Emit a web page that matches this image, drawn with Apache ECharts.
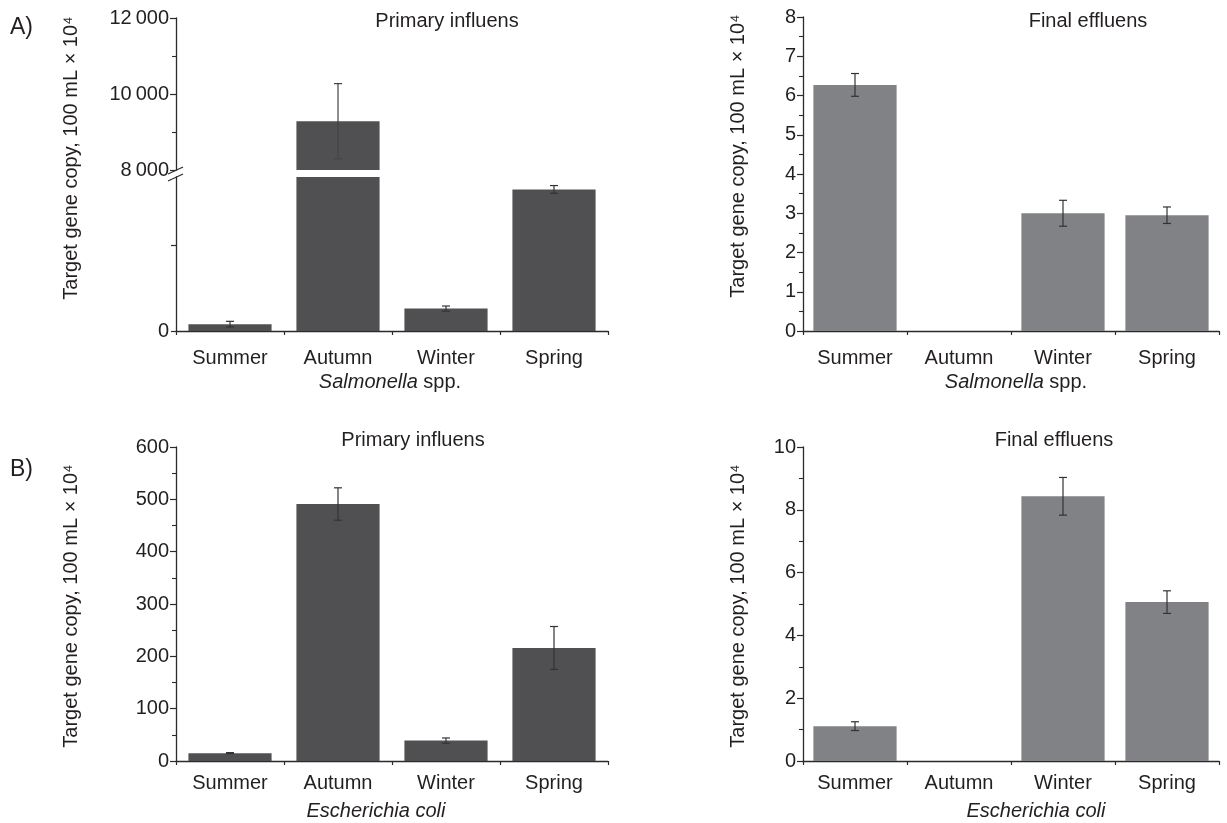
<!DOCTYPE html>
<html>
<head>
<meta charset="utf-8">
<script src="https://cdn.jsdelivr.net/npm/echarts@6/dist/echarts.min.js"></script>
<style>html,body{margin:0;padding:0;background:#fff}#c{width:1227px;height:823px}</style>
</head>
<body>
<div id="c"></div>
<script>
// ---- data ----
const seasons = ['Summer', 'Autumn', 'Winter', 'Spring'];
const salmPrimary = [80, 9283, 262, 1655];
const salmPrimaryErr = [33, 990, 30, 45];
const salmFinal = [6.27, 0, 3.0, 2.95];
const salmFinalErr = [0.29, 0, 0.33, 0.21];
const coliPrimary = [15, 491, 39, 216];
const coliPrimaryErr = [1, 31, 5, 41];
const coliFinal = [1.11, 0, 8.43, 5.06];
const coliFinalErr = [0.14, 0, 0.6, 0.36];
const yName = 'Target gene copy, 100 mL \u00d7 10\u2074';

const FONT = '"Liberation Sans", Arial, Helvetica, sans-serif';
const FS = 20;
const TXT = '#231f20';
const DARK = '#505052';
const LIGHT = '#818286';
const AX = '#2b2b2b';

const chart = echarts.init(document.getElementById('c'), null, {renderer: 'canvas'});

const grids = [
  {left: 176, top: 177, width: 432, height: 154}, // A primary lower
  {left: 176, top: 18, width: 432, height: 152},  // A primary upper
  {left: 803, top: 17, width: 416, height: 314},  // A final
  {left: 176, top: 447, width: 432, height: 314}, // B primary
  {left: 803, top: 447, width: 416, height: 314}  // B final
];

function mainX(i, show, margin) {
  return {
    type: 'category', gridIndex: i, data: seasons, show: show, position: 'bottom',
    axisLine: {lineStyle: {color: AX, width: 1.3}},
    axisTick: {alignWithLabel: true, length: 6, lineStyle: {color: AX, width: 1.2}},
    axisLabel: {fontSize: FS, color: TXT, fontFamily: FONT, margin: margin}
  };
}
function bndX(i) {
  return {
    type: 'category', gridIndex: i, data: seasons, position: 'bottom',
    axisLine: {show: false}, axisLabel: {show: false},
    axisTick: {show: true, interval: 0, length: 4, lineStyle: {color: AX, width: 1.2}}
  };
}
const yBase = {
  type: 'value', splitLine: {show: false},
  axisLine: {show: true, lineStyle: {color: AX, width: 1.3}},
  axisTick: {show: true, length: 6, lineStyle: {color: AX, width: 1.2}},
  minorTick: {show: true, splitNumber: 2, length: 4, lineStyle: {color: AX, width: 1.1}},
  axisLabel: {fontSize: FS, color: TXT, fontFamily: FONT, margin: 7}
};
function thin(v) { return String(v).replace(/(\d)(?=\d{3}$)/, '$1\u2009'); }

const xAxis = [mainX(0, true, 17), mainX(1, false, 17), mainX(2, true, 17), mainX(3, true, 12), mainX(4, true, 12),
  bndX(0), bndX(2), bndX(3), bndX(4)];
const yAxis = [
  Object.assign({}, yBase, {gridIndex: 0, min: 0, max: 1800, interval: 1000,
    minorTick: {show: false},
    axisTick: {show: true, length: 5, customValues: [0, 1000], lineStyle: {color: AX, width: 1.2}},
    axisLabel: Object.assign({}, yBase.axisLabel, {customValues: [0]})}),
  Object.assign({}, yBase, {gridIndex: 1, min: 8000, max: 12000, interval: 2000,
    axisLabel: Object.assign({}, yBase.axisLabel, {formatter: thin})}),
  Object.assign({}, yBase, {gridIndex: 2, min: 0, max: 8, interval: 1}),
  Object.assign({}, yBase, {gridIndex: 3, min: 0, max: 600, interval: 100}),
  Object.assign({}, yBase, {gridIndex: 4, min: 0, max: 10, interval: 2})
];

function barSeries(idx, data, color, width) {
  return {type: 'bar', xAxisIndex: idx, yAxisIndex: idx, data: data, barWidth: width, clip: true,
    itemStyle: {color: color}, silent: true, animation: false, z: 2};
}
function errSeries(idx, vals, errs, color) {
  return {
    type: 'custom', xAxisIndex: idx, yAxisIndex: idx, clip: true, silent: true, animation: false, z: 5,
    data: vals.map((v, i) => [i, v, errs[i]]),
    renderItem: function (params, api) {
      const x = api.value(0), v = api.value(1), e = api.value(2);
      if (!e) return null;
      const t = api.coord([x, v + e]);
      const b = api.coord([x, v - e]);
      const hw = 4;
      const st = {stroke: color, lineWidth: 1.2};
      return {type: 'group', children: [
        {type: 'line', shape: {x1: t[0], y1: t[1], x2: b[0], y2: b[1]}, style: st},
        {type: 'line', shape: {x1: t[0] - hw, y1: t[1], x2: t[0] + hw, y2: t[1]}, style: st},
        {type: 'line', shape: {x1: b[0] - hw, y1: b[1], x2: b[0] + hw, y2: b[1]}, style: st}
      ]};
    }
  };
}

const series = [
  barSeries(0, salmPrimary, DARK, '77%'),
  barSeries(1, salmPrimary, DARK, '77%'),
  barSeries(2, salmFinal, LIGHT, '80%'),
  barSeries(3, coliPrimary, DARK, '77%'),
  barSeries(4, coliFinal, LIGHT, '80%'),
  errSeries(0, salmPrimary, salmPrimaryErr, '#333'),
  errSeries(1, salmPrimary, salmPrimaryErr, '#444'),
  errSeries(2, salmFinal, salmFinalErr, '#333'),
  errSeries(3, coliPrimary, coliPrimaryErr, '#333'),
  errSeries(4, coliFinal, coliFinalErr, '#333')
];

function txt(text, x, y, opts) {
  return Object.assign({type: 'text', x: x, y: y, silent: true,
    style: Object.assign({text: text, fill: TXT, font: FS + 'px ' + FONT, align: 'center', verticalAlign: 'middle'},
      (opts && opts.style) || {})}, (opts && opts.el) || {});
}
function italicName(it, rest, x, y) {
  return {type: 'text', x: x, y: y, silent: true, style: {
    text: '{i|' + it + '}' + (rest ? '{n|' + rest + '}' : ''),
    align: 'center', verticalAlign: 'middle',
    rich: {i: {fontSize: FS, fontStyle: 'italic', fontFamily: FONT, fill: TXT},
           n: {fontSize: FS, fontFamily: FONT, fill: TXT}}}};
}

const graphic = [
  txt('A)', 10, 28, {style: {align: 'left', font: '23px ' + FONT}}),
  txt('B)', 10, 470, {style: {align: 'left', font: '23px ' + FONT}}),
  txt('Primary influens', 447, 21),
  txt('Final effluens', 1088, 21),
  txt('Primary influens', 413, 440),
  txt('Final effluens', 1054, 440),
  txt(yName, 71, 158, {el: {rotation: Math.PI / 2}}),
  txt(yName, 738, 156, {el: {rotation: Math.PI / 2}}),
  txt(yName, 71, 606, {el: {rotation: Math.PI / 2}}),
  txt(yName, 738, 606, {el: {rotation: Math.PI / 2}}),
  italicName('Salmonella', ' spp.', 390, 382),
  italicName('Salmonella', ' spp.', 1016, 382),
  italicName('Escherichia coli', '', 376, 811),
  italicName('Escherichia coli', '', 1036, 811)
];

chart.setOption({
  animation: false,
  backgroundColor: '#ffffff',
  textStyle: {fontFamily: FONT},
  grid: grids, xAxis: xAxis, yAxis: yAxis, series: series, graphic: graphic
});

// axis-break marks between the two segments of panel A (primary)
const yUp = chart.convertToPixel({yAxisIndex: 1}, 8000);
const yLo = chart.convertToPixel({yAxisIndex: 0}, 1800);
const axisLeft = grids[0].left;
chart.setOption({graphic: graphic.concat([
  {type: 'line', silent: true, shape: {x1: axisLeft - 8, y1: yUp + 4, x2: axisLeft + 7, y2: yUp - 3}, style: {stroke: AX, lineWidth: 1.2}},
  {type: 'line', silent: true, shape: {x1: axisLeft - 8, y1: yLo + 4, x2: axisLeft + 7, y2: yLo - 3}, style: {stroke: AX, lineWidth: 1.2}}
])});
</script>
</body>
</html>
